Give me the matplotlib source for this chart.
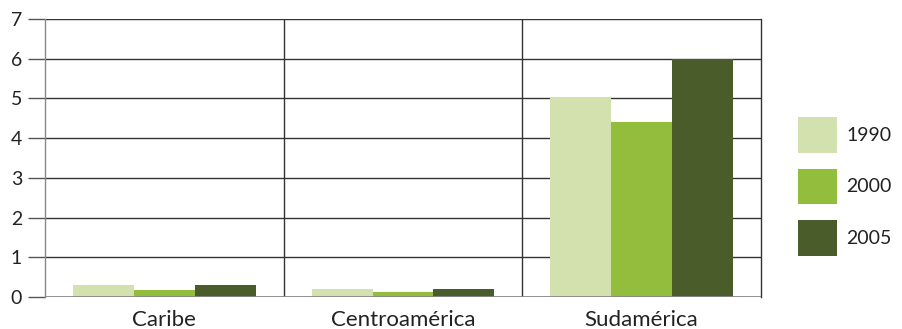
import matplotlib.pyplot as plt
import numpy as np
from matplotlib.patches import Patch

# datos
regiones = ["Caribe", "Centroamérica", "Sudamérica"]
anios = ["1990", "2000", "2005"]
v1990 = [0.30, 0.20, 5.0]
v2000 = [0.18, 0.13, 4.4]
v2005 = [0.30, 0.20, 6.0]
colores = ["#d2e1ad", "#93bd3d", "#4a5c2a"]

plt.rcParams['font.family'] = ['Lato', 'DejaVu Sans']

fig = plt.figure(figsize=(9.02, 3.29), dpi=100)
ax = fig.add_axes([45 / 902, 32 / 329, 716 / 902, 278 / 329])

x = np.arange(len(regiones))
ancho = 0.255
series = [v1990, v2000, v2005]
for i, vals in enumerate(series):
    ax.bar(x + (i - 1) * ancho, vals, width=ancho, color=colores[i], zorder=3,
           linewidth=0)

# rejilla y separadores
for y in range(1, 8):
    ax.axhline(y, color="#333333", linewidth=1, zorder=2)
ax.axhline(0, color="#888888", linewidth=1.3, zorder=4)
for xs in [0.5, 1.5]:
    ax.axvline(xs, color="#333333", linewidth=1, zorder=2)

ax.set_xlim(-0.5, 2.5)
ax.set_ylim(0, 7)
ax.set_yticks(range(0, 8))
ax.set_yticklabels([str(i) for i in range(0, 8)], fontsize=14, color="#222222")
ax.tick_params(axis="y", length=12.5, width=1, color="#555555", pad=4)
ax.set_xticks(x)
ax.set_xticklabels(regiones, fontsize=16, color="#222222")
ax.tick_params(axis="x", length=0, pad=9)

for s in ["top", "bottom"]:
    ax.spines[s].set_visible(False)
ax.spines["left"].set_color("#888888")
ax.spines["right"].set_color("#333333")
for s in ["left", "right"]:
    ax.spines[s].set_linewidth(1)

handles = [Patch(facecolor=c, edgecolor="none") for c in colores]
fig.legend(handles, anios, loc="center left", bbox_to_anchor=(790 / 902, 0.433),
           frameon=False, fontsize=14, handlelength=2.0, handleheight=2.45,
           labelspacing=0.82, handletextpad=0.5, borderaxespad=0,
           labelcolor="#222222")

fig.savefig("out.png", dpi=100)
